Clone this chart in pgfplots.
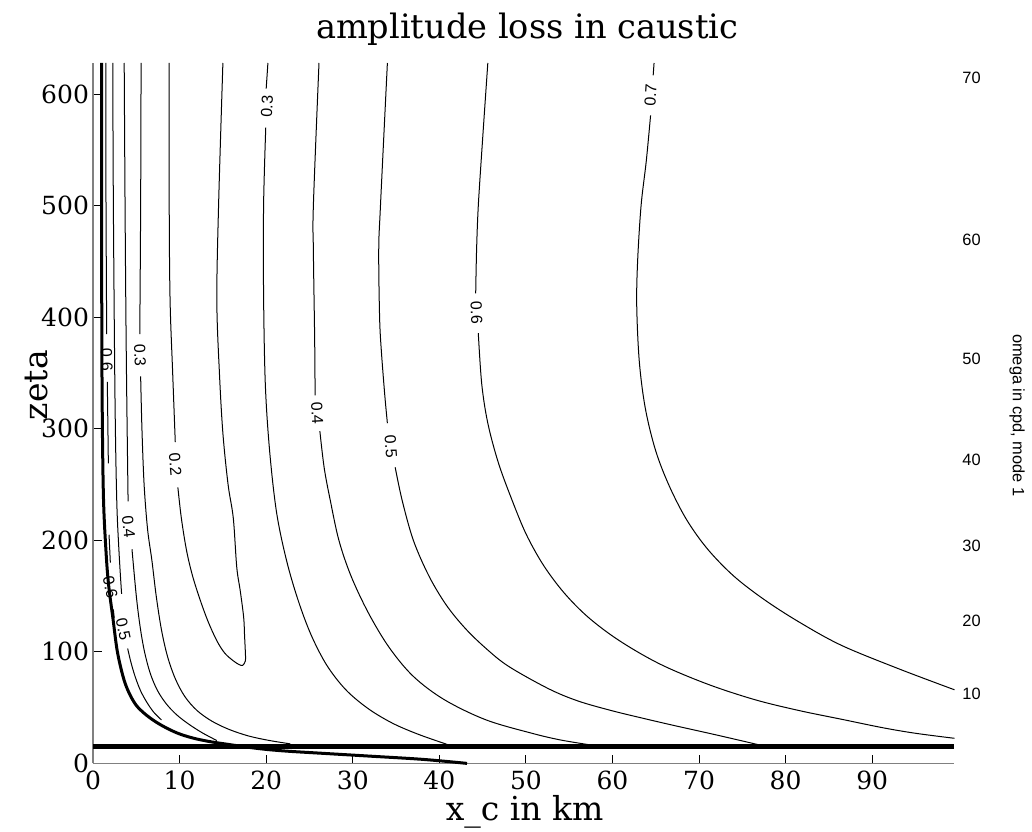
\documentclass[border=0pt]{standalone}
\usepackage{fontspec}
\setmainfont{DejaVu Serif}
\newfontfamily\labelfont{Liberation Sans}
\usepackage{pgfplots}
\pgfplotsset{compat=1.18}
\usetikzlibrary{calc}
\definecolor{axgray}{RGB}{128,128,128}
\tikzset{clab/.style={font=\labelfont\fontsize{8}{9}\selectfont, inner sep=0pt}}
\pgfplotsset{cl/.style={black, solid, mark=none, line width=0.5pt, smooth, tension=0.55}}
\begin{document}
\begin{tikzpicture}
\begin{axis}[
  name=ax,
  scale only axis,
  width=430.6pt, height=350.1pt,
  xmin=0, xmax=99.5, ymin=0, ymax=628,
  axis lines*=left,
  axis line style={draw=axgray, line width=0.6pt},
  tick align=inside,
  major tick length=4.4pt,
  tick style={black, line width=0.5pt},
  xtick={0,10,...,90}, ytick={0,100,...,600},
  ticklabel style={font=\fontsize{12.5}{14}\selectfont},
  yticklabel style={xshift=1.5pt},
  /pgf/number format/assume math mode=true,
  xlabel={x\_c in km}, ylabel={zeta},
  xlabel style={font=\fontsize{16.5}{18}\selectfont, at={(axis description cs:0.501,0)}, anchor=base, yshift=-28.5pt},
  ylabel style={font=\fontsize{16.5}{18}\selectfont, at={(axis description cs:-0.0534,0.54)}, anchor=base},
  title={amplitude loss in caustic},
  title style={font=\fontsize{16.8}{18}\selectfont, at={(axis description cs:0.504,1)}, anchor=base, yshift=6pt},
  clip=false,
]
% 0.7
\addplot[cl] coordinates {(64.8,628) (64.7,617)};
\addplot[cl] coordinates {(64.4,581) (63.9,540) (63.3,500) (62.9,450) (62.8,410) (63.1,360) (63.8,318) (65.0,280) (66.6,248) (68.6,218) (71.0,192) (74.0,168) (77.5,147) (81.5,127) (86.4,106) (93.0,85) (99.5,66)};
% 0.6 right
\addplot[cl] coordinates {(45.6,628) (45.0,560) (44.5,500) (44.3,460) (44.2,421.5)};
\addplot[cl] coordinates {(44.5,385.7) (44.9,340) (45.6,305) (46.8,270) (48.3,238) (50.0,206) (52.0,178) (54.4,153) (57.2,131) (60.8,110) (65.5,89) (71.0,71) (76.5,57) (81.6,47.3) (86.5,39.5) (91.2,32) (95,27) (99.5,22.5)};
% 0.5 right
\addplot[cl] coordinates {(34.0,628) (33.2,500) (33.0,460) (33.1,400) (33.3,370) (33.7,330) (34.0,305)};
\addplot[cl] coordinates {(34.9,265.5) (35.7,236) (37.0,200) (38.8,168) (40.8,142) (43.0,121) (45.4,103) (48.0,87) (52.6,67) (56,56) (59.9,47.3) (63.5,40.5) (67.1,34) (72,25.5) (77.0,16.5)};
% 0.4 right
\addplot[cl] coordinates {(26.1,628) (25.45,500) (25.45,460) (25.6,380) (25.65,330)};
\addplot[cl] coordinates {(26.2,298) (26.7,265) (27.4,236) (28.4,200) (29.8,168) (31.8,135) (34.2,104) (37.0,78) (40.6,57) (45.4,39) (50.7,27) (54,21) (57.5,16.5)};
% 0.3 right
\addplot[cl] coordinates {(20.2,628) (20.0,605)};
\addplot[cl] coordinates {(19.95,570) (19.7,500) (19.7,420) (19.9,340) (20.4,280) (21.2,225) (22.35,182) (23.7,146) (25.2,115) (27.0,88) (29.2,66) (31.8,49) (34.6,36) (37.6,26) (41.1,16.5)};
% 0.2 (closed U)
\addplot[cl] coordinates {(8.8,628) (8.8,500) (8.9,415) (9.2,350) (9.5,288)};
\addplot[cl] coordinates {(9.8,247.5) (10.2,220) (10.8,191) (11.5,168) (12.4,146) (13.3,127) (14.3,110) (15.2,99) (16.2,92) (16.9,88.5) (17.3,88) (17.6,92) (17.6,98.6) (17.5,115) (17.4,131) (17.0,155) (16.6,176) (16.2,220) (15.6,250) (15.0,296) (14.6,350) (14.3,415) (14.5,500) (15.0,628)};
% 0.3 left
\addplot[cl] coordinates {(5.55,628) (5.5,500) (5.4,385)};
\addplot[cl] coordinates {(5.5,347) (5.65,300) (5.9,250) (6.3,210) (6.8,182) (7.3,150) (7.9,120) (8.6,96) (9.5,76) (10.6,60) (12.0,47.5) (13.7,38) (15.7,30.5) (18.0,24.5) (20.4,20.5) (22.8,17.5)};
% 0.4 left
\addplot[cl] coordinates {(3.6,628) (3.7,500) (3.8,400) (3.9,326) (4.05,235)};
\addplot[cl] coordinates {(4.5,192) (5.0,150) (5.45,122) (5.95,100) (6.6,81) (7.4,66) (8.4,54) (9.6,44) (11.0,35.5) (12.6,27.5) (14.3,20.5)};
% 0.5 left
\addplot[cl] coordinates {(2.28,628) (2.35,500) (2.54,326) (2.74,236) (3.0,190) (3.3,152)};
\addplot[cl] coordinates {(4.0,103) (4.4,90) (4.9,77) (5.5,65) (6.2,55) (7.0,46) (7.9,39)};
% 0.6 left
\addplot[cl] coordinates {(1.47,628) (1.5,500) (1.58,385)};
\addplot[cl] coordinates {(1.65,342) (1.72,300) (1.77,269)};
\addplot[cl] coordinates {(1.85,205) (2.0,180)};
\addplot[cl] coordinates {(2.35,138) (2.45,130)};
% thick curve
\addplot[black, mark=none, line width=1.5pt, smooth, tension=0.55] coordinates {(1.0,628) (1.0,450) (1.05,330) (1.2,240) (1.5,190) (1.8,160) (2.3,130) (2.75,103) (3.2,86) (3.7,72) (4.3,61) (5.0,52) (5.9,45) (7.0,38.5) (8.3,32.5) (9.8,27) (11.5,22.8) (13.3,19.8) (15.2,17.5) (18.9,13.5) (22,11.2) (26.6,9.0) (32,6.5) (38.1,3.6) (43.2,0)};
% horizontal line
\addplot[black, mark=none, line width=2.6pt, sharp plot] coordinates {(0,15.4) (99.5,15.4)};
% contour labels
\node[clab, rotate=87] at (axis cs:20.1,589) {0.3};
\node[clab, rotate=86] at (axis cs:64.4,599) {0.7};
\node[clab, rotate=-88] at (axis cs:44.3,404) {0.6};
\node[clab, rotate=-86] at (axis cs:34.4,284) {0.5};
\node[clab, rotate=-87] at (axis cs:25.9,314) {0.4};
\node[clab, rotate=-88] at (axis cs:5.43,366) {0.3};
\node[clab, rotate=-88] at (axis cs:1.6,362) {0.6};
\node[clab, rotate=-85] at (axis cs:9.5,268) {0.2};
\node[clab, rotate=-84] at (axis cs:4.1,212) {0.4};
\node[clab, rotate=-78] at (axis cs:2.0,158) {0.6};
\node[clab, rotate=-78] at (axis cs:3.5,120) {0.5};
\end{axis}
\begin{axis}[
  scale only axis,
  width=430.6pt, height=350.1pt,
  xmin=0, xmax=99.5, ymin=0, ymax=628,
  axis x line=none,
  axis y line*=right,
  y axis line style={draw=none},
  ytick style={draw=none},
  major tick length=0pt,
  ytick={62.8,127.4,195.5,272.6,363,469,614.3},
  yticklabels={10,20,30,40,50,60,70},
  yticklabel style={font=\labelfont\fontsize{8.2}{9}\selectfont, anchor=west, inner sep=0pt, xshift=3.75pt},
  ylabel={omega in cpd, mode 1},
  ylabel style={font=\labelfont\fontsize{8.2}{9}\selectfont, at={(axis description cs:1.0679,0.497)}, anchor=base, rotate=180},
]
\end{axis}
\pgfresetboundingbox
\path[use as bounding box] ($(ax.south west)+(-46.5pt,-34pt)$) rectangle ($(ax.north east)+(38.75pt,31.5pt)$);
\end{tikzpicture}
\end{document}
